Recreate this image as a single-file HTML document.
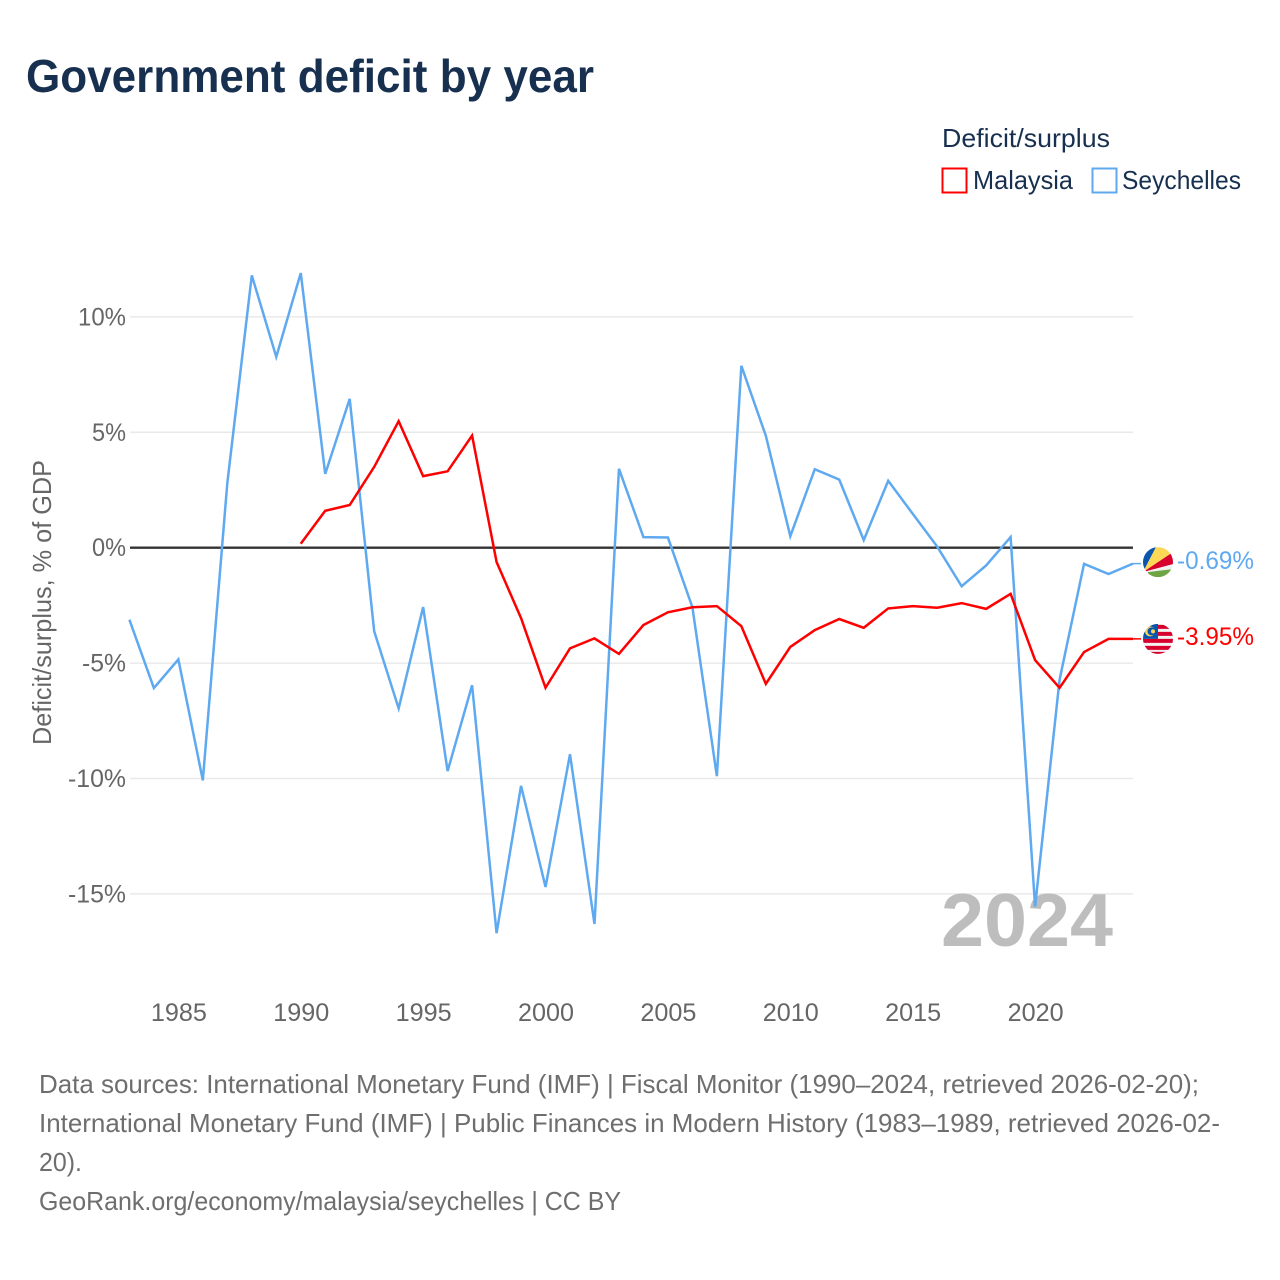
<!DOCTYPE html>
<html lang="en">
<head>
<meta charset="utf-8">
<title>Government deficit by year</title>
<style>
html,body{margin:0;padding:0;background:#fff;}
svg{display:block;font-family:"Liberation Sans",sans-serif;}
</style>
</head>
<body>
<svg id="chart" xmlns="http://www.w3.org/2000/svg" width="1280" height="1280" viewBox="0 0 1280 1280">
  <defs>
    <clipPath id="flag-clip-sc"><circle cx="0" cy="0" r="15"/></clipPath>
    <clipPath id="flag-clip-my"><circle cx="0" cy="0" r="15"/></clipPath>
  </defs>
  <rect x="0" y="0" width="1280" height="1280" fill="#fff"/>
  <text x="26" y="92" font-size="46" font-weight="700" fill="#18304f" textLength="568" lengthAdjust="spacingAndGlyphs">Government deficit by year</text>

  <g>
    <text x="942" y="147" font-size="26" fill="#18304f" textLength="168" lengthAdjust="spacingAndGlyphs">Deficit/surplus</text>
    <rect x="942.5" y="168.5" width="24" height="24" fill="#fff" stroke="#ff0000" stroke-width="2"/>
    <text x="973" y="189" font-size="26" fill="#18304f" textLength="100" lengthAdjust="spacingAndGlyphs">Malaysia</text>
    <rect x="1092.5" y="168.5" width="24" height="24" fill="#fff" stroke="#5ea9f0" stroke-width="2"/>
    <text x="1122" y="189" font-size="26" fill="#18304f" textLength="119" lengthAdjust="spacingAndGlyphs">Seychelles</text>
  </g>

  <g id="grid"></g>
  <g id="y-axis"></g>
  <g id="x-axis"></g>
  <text transform="translate(51,745) rotate(-90)" x="0" y="0" font-size="26" fill="#666" textLength="285" lengthAdjust="spacingAndGlyphs">Deficit/surplus, % of GDP</text>
  <text x="941" y="946" font-size="75" font-weight="700" fill="#bdbdbd" textLength="172" lengthAdjust="spacingAndGlyphs">2024</text>
  <g id="series"></g>

  <g id="flag-sc">
    <g clip-path="url(#flag-clip-sc)">
      <rect x="-15" y="-15" width="30" height="30" fill="#f1f1f1"/>
      <path d="M-15 10 L-15 -15 L-2 -15 Z" fill="#0a56ac"/>
      <path d="M-15 10 L-2 -15 L15 -15 L15 -10 Z" fill="#fcd856"/>
      <path d="M-15 10 L15 -10 L15 2 Z" fill="#d8002c"/>
      <path d="M-15 10 L15 2 L15 8 Z" fill="#f1f1f1"/>
      <path d="M-15 10 L15 8 L15 15 L-15 15 Z" fill="#f1f1f1"/>
      <path d="M-10 10 C-2 9 6 8 15 7 L15 15 L-10 15 Z" fill="#6da544"/>
    </g>
  </g>
  <g id="flag-my">
    <g clip-path="url(#flag-clip-my)">
      <rect x="-15" y="-15" width="30" height="30" fill="#f1f1f1"/>
      <rect x="-15" y="-14" width="30" height="4" fill="#d8002c"/>
      <rect x="-15" y="-7" width="30" height="4" fill="#d8002c"/>
      <rect x="-15" y="0" width="30" height="4" fill="#d8002c"/>
      <rect x="-15" y="7" width="30" height="4" fill="#d8002c"/>
      <rect x="-15" y="13" width="30" height="3" fill="#d8002c"/>
      <rect x="-15" y="-15" width="15" height="15" fill="#0a56ac"/>
      <circle cx="-8" cy="-7.5" r="5" fill="#fcd856"/>
      <circle cx="-6.5" cy="-7.5" r="4" fill="#0a56ac"/>
      <circle cx="-5" cy="-7.5" r="2" fill="#fcd856"/>
    </g>
  </g>
  <g id="end-labels"></g>

  <g font-size="26" fill="#6e6e6e">
    <text x="39" y="1093" textLength="1160" lengthAdjust="spacingAndGlyphs">Data sources: International Monetary Fund (IMF) | Fiscal Monitor (1990–2024, retrieved 2026-02-20);</text>
    <text x="39" y="1132" textLength="1181" lengthAdjust="spacingAndGlyphs">International Monetary Fund (IMF) | Public Finances in Modern History (1983–1989, retrieved 2026-02-</text>
    <text x="39" y="1171" textLength="43" lengthAdjust="spacingAndGlyphs">20).</text>
    <text x="39" y="1210" textLength="582" lengthAdjust="spacingAndGlyphs">GeoRank.org/economy/malaysia/seychelles | CC BY</text>
  </g>
</svg>
<script>
var seychellesYears = [1983,1984,1985,1986,1987,1988,1989,1990,1991,1992,1993,1994,1995,1996,1997,1998,1999,2000,2001,2002,2003,2004,2005,2006,2007,2008,2009,2010,2011,2012,2013,2014,2015,2016,2017,2018,2019,2020,2021,2022,2023,2024];
var seychellesValues = [-3.12,-6.08,-4.84,-10.08,2.8,11.8,8.27,11.9,3.2,6.45,-3.62,-6.96,-2.57,-9.68,-5.96,-16.7,-10.32,-14.7,-8.95,-16.3,3.42,0.46,0.44,-2.58,-9.9,7.88,4.85,0.5,3.4,2.95,0.33,2.9,1.47,0.05,-1.67,-0.77,0.46,-15.55,-5.72,-0.7,-1.14,-0.69];
var malaysiaYears = [1990,1991,1992,1993,1994,1995,1996,1997,1998,1999,2000,2001,2002,2003,2004,2005,2006,2007,2008,2009,2010,2011,2012,2013,2014,2015,2016,2017,2018,2019,2020,2021,2022,2023,2024];
var malaysiaValues = [0.17,1.6,1.85,3.5,5.48,3.1,3.31,4.86,-0.62,-3.05,-6.07,-4.36,-3.93,-4.6,-3.35,-2.8,-2.58,-2.53,-3.4,-5.9,-4.3,-3.57,-3.09,-3.47,-2.63,-2.53,-2.6,-2.4,-2.65,-2,-4.87,-6.07,-4.52,-3.95,-3.95];
var yTicks = [10,5,0,-5,-10,-15];
var xTicks = [1985,1990,1995,2000,2005,2010,2015,2020];

var NS = 'http://www.w3.org/2000/svg';
function xScale(year){ return 129.4 + (year - 1983) * (1133 - 129.4) / 41; }
function yScale(v){ return 547.7 - v * 23.08; }
function labelWidth(s){
  var w = 0;
  for (var i = 0; i < s.length; i++) {
    var c = s.charAt(i);
    w += c === '%' ? 20 : (c === '-' ? 10 : 14);
  }
  return w;
}
function make(tag, attrs, parent){
  var el = document.createElementNS(NS, tag);
  for (var k in attrs) { el.setAttribute(k, attrs[k]); }
  parent.appendChild(el);
  return el;
}

var grid = document.getElementById('grid');
var yAxis = document.getElementById('y-axis');
var xAxis = document.getElementById('x-axis');
var seriesGroup = document.getElementById('series');
var endLabels = document.getElementById('end-labels');

yTicks.forEach(function(t){
  var y = yScale(t);
  if (t !== 0) {
    var line = make('line', {x1:130, x2:1133, y1:y, y2:y, stroke:'#e9e9e9', 'stroke-width':1.5}, grid);
    
    
  }
  var s = t + '%';
  var label = make('text', {x:126, y:y + 8.5, 'text-anchor':'end', 'font-size':25, fill:'#666', textLength:labelWidth(s), lengthAdjust:'spacingAndGlyphs'}, yAxis);
  
  
  label.textContent = s;
});

xTicks.forEach(function(t){
  var s = String(t);
  var label = make('text', {x:xScale(t) + 0.5, y:1021, 'text-anchor':'middle', 'font-size':25, fill:'#666', textLength:labelWidth(s), lengthAdjust:'spacingAndGlyphs'}, xAxis);
  
  
  label.textContent = s;
});

function drawSeries(years, values, color, name){
  var pts = years.map(function(yr, i){ return xScale(yr).toFixed(2) + ',' + yScale(values[i]).toFixed(2); });
  var line = make('polyline', {points:pts.join(' '), fill:'none', stroke:color, 'stroke-width':2.5, 'stroke-linejoin':'miter'}, seriesGroup);
  
  
}
drawSeries(seychellesYears, seychellesValues, '#5ea9f0', 'line-seychelles');
drawSeries(malaysiaYears, malaysiaValues, '#ff0000', 'line-malaysia');

var zeroLine = make('line', {x1:130, x2:1133, y1:yScale(0), y2:yScale(0), stroke:'#333', 'stroke-width':2.4}, seriesGroup);


seriesGroup.insertBefore(zeroLine, seriesGroup.firstChild);

function drawEnd(values, color, flagId, flagOffset, labelOffset, name){
  var v = values[values.length - 1];
  var y = yScale(v);
  var conn = make('line', {x1:1133, x2:1141, y1:y, y2:y, stroke:color, 'stroke-width':1.5}, endLabels);
  
  
  var cy = y + flagOffset;
  document.getElementById(flagId).setAttribute('transform', 'translate(1158,' + cy + ')');
  var s = v.toFixed(2) + '%';
  var label = make('text', {x:1177, y:cy + labelOffset, 'font-size':25, fill:color, textLength:77, lengthAdjust:'spacingAndGlyphs'}, endLabels);
  
  
  label.textContent = s;
}
drawEnd(seychellesValues, '#5ea9f0', 'flag-sc', -1.5, 7, 'seychelles');
drawEnd(malaysiaValues, '#ff0000', 'flag-my', 0, 6, 'malaysia');
</script>
</body>
</html>
